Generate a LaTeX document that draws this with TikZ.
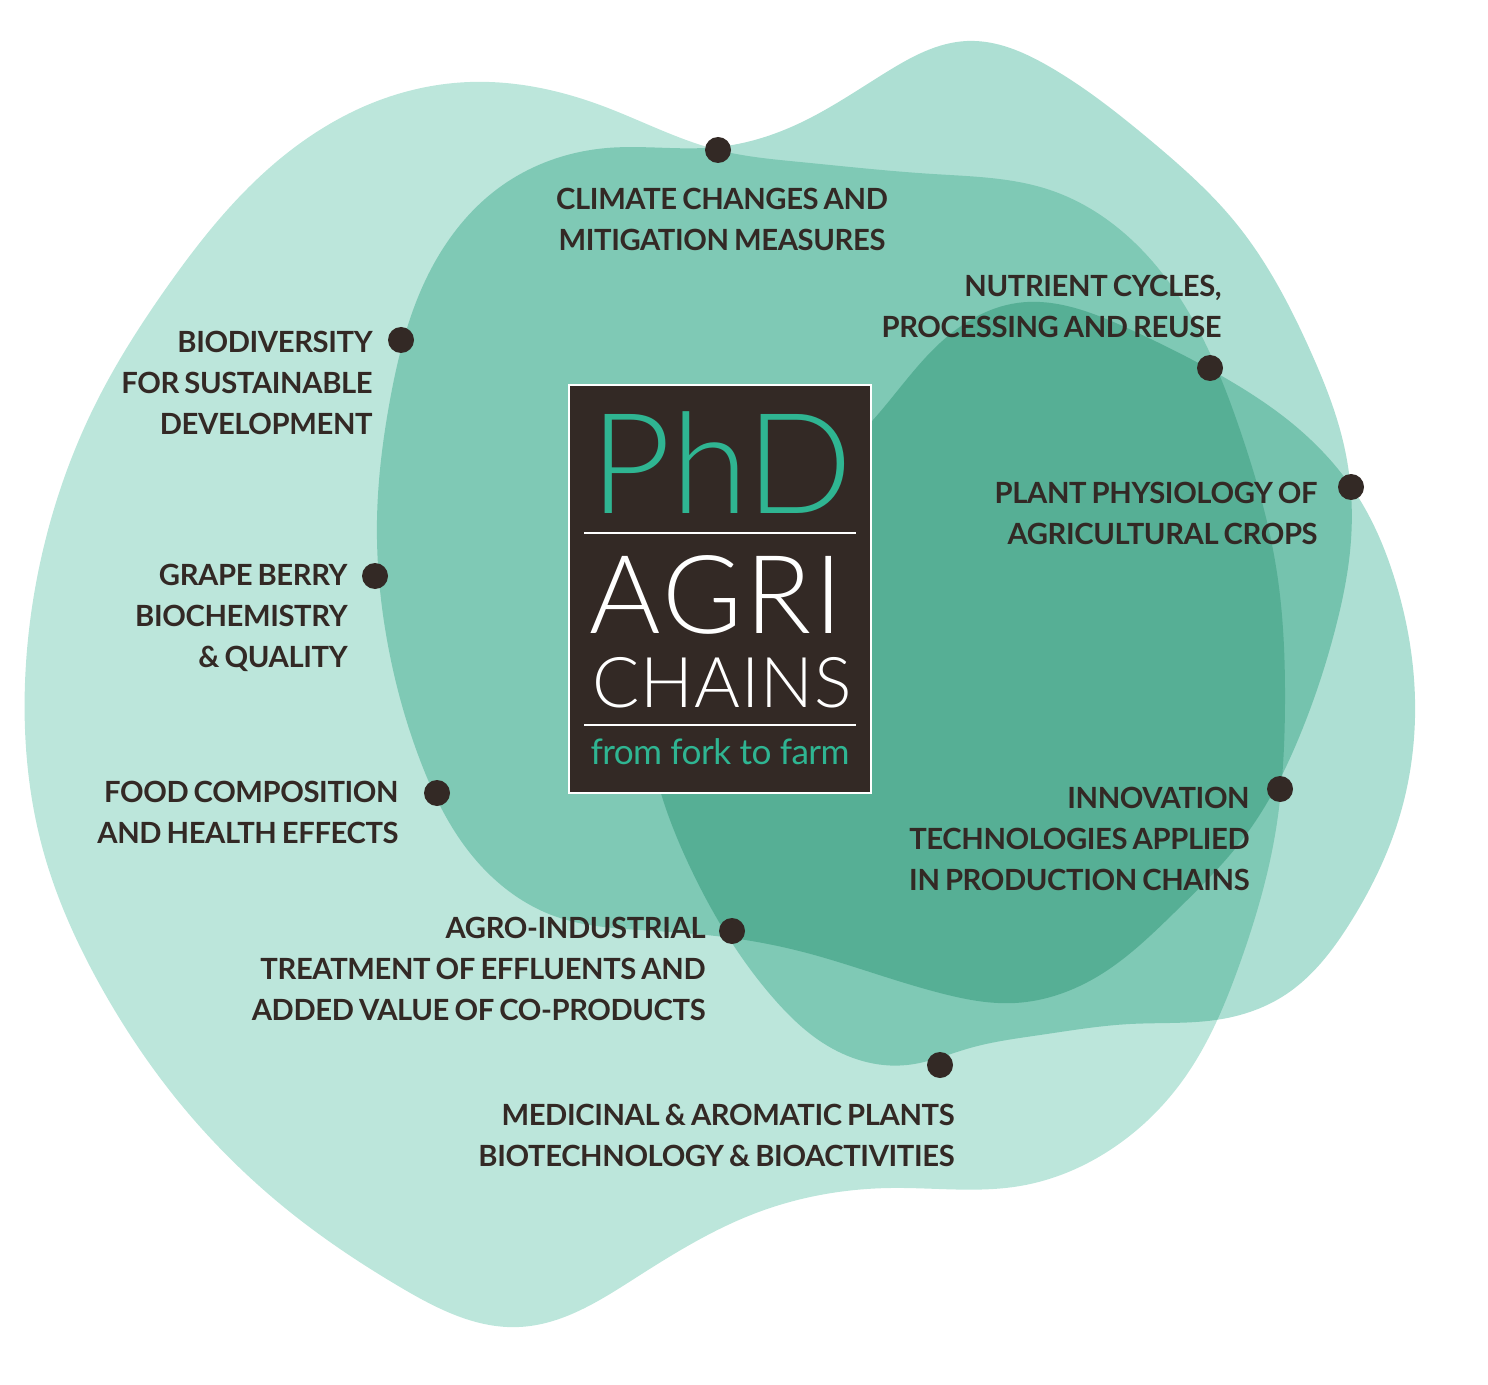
\documentclass[tikz,border=0pt]{standalone}
\usepackage{xcolor}
\usepackage{fontspec}
\usetikzlibrary{hobby}
\setmainfont{Lato}
\newfontfamily\logofont{Lato Light}
\newfontfamily\agrifont[LetterSpace=2.8]{Lato Light}
\newfontfamily\chainsfont[LetterSpace=1.5]{Lato Light}
\newfontfamily\tagfont[LetterSpace=-1.7]{Lato}
\newfontfamily\topicfont[LetterSpace=-1.3,WordSpace=.75]{Lato Bold}
\definecolor{blobleft}{RGB}{188,230,219}
\definecolor{blobright}{RGB}{173,223,211}
\definecolor{darkbrown}{RGB}{51,41,37}
\definecolor{logogreen}{RGB}{47,181,146}
\tikzstyle{dot}=[circle,fill=darkbrown,minimum size=13pt,inner sep=0pt]
\tikzstyle{topic}=[text=darkbrown,inner sep=0pt,font=\topicfont\fontsize{14.6}{20.5}\selectfont]
\tikzstyle{logotext}=[anchor=base,inner sep=0pt]
\tikzstyle{logorule}=[white,line width=.9pt]
\tikzset{y=-.5pt}
\tikzset{x=.5pt}
\begin{document}
\begin{tikzpicture}[use Hobby shortcut]
  \useasboundingbox (0,0) rectangle (1488,1385);
  %% Blobs
  \begin{scope}[blend mode=multiply]
  \fill[blobleft,closed=true] (718,150) .. (600,105) .. (470,82) .. (380,100) .. (267,170) .. (167,287) .. (95,405) .. (43,550) .. (25,683) .. (43,850) .. (100,985) .. (183,1107) .. (290,1212) .. (400,1287) .. (519,1327) .. (637,1277) .. (756,1213) .. (890,1188) .. (1020,1186) .. (1110,1150) .. (1183,1080) .. (1240,963) .. (1275,835) .. (1285,700) .. (1277,573) .. (1240,430) .. (1158,268) .. (1050,190) .. (933,174) .. (800,162);
  \fill[blobright,closed=true] (718,147) .. (800,123) .. (885,73) .. (967,41) .. (1050,67) .. (1150,140) .. (1235,222) .. (1310,350) .. (1345,450) .. (1351,540) .. (1335,630) .. (1300,735) .. (1248,832) .. (1175,912) .. (1100,975) .. (1015,1003) .. (940,993) .. (873,973) .. (807,953) .. (732,938) .. (640,930) .. (557,917) .. (470,853) .. (420,760) .. (387,640) .. (377,520) .. (390,400) .. (427,277) .. (500,187) .. (607,148);
  \fill[blobright,closed=true] (1017,303) .. (1127,328) .. (1220,375) .. (1300,430) .. (1360,500) .. (1395,580) .. (1415,700) .. (1400,815) .. (1350,923) .. (1285,995) .. (1222,1019) .. (1130,1024) .. (1040,1035) .. (970,1048) .. (907,1065) .. (823,1043) .. (775,1000) .. (732,943) .. (690,867) .. (660,790) .. (650,720) .. (700,600) .. (800,490) .. (873,420) .. (940,343);
  \end{scope}

  %% Logo
  \draw (568,384) node[anchor=north west,minimum width=151pt,minimum height=204pt,inner sep=0pt,draw=white,line width=.9pt,fill=darkbrown] (logo) {};
  \draw (722,513) node[logotext,text=logogreen,font=\logofont\fontsize{70}{70}\selectfont] (phd) {PhD};
  \draw (716,633) node[logotext,text=white,font=\agrifont\fontsize{54.5}{54.5}\selectfont] (agri) {AGRI};
  \draw (722,707) node[logotext,text=white,font=\chainsfont\fontsize{35}{35}\selectfont] (chains) {CHAINS};
  \draw (720,764) node[logotext,text=logogreen,font=\tagfont\fontsize{17.6}{17.6}\selectfont] (tagline) {from fork to farm};
  \draw[logorule] (584,533) -- (856,533);
  \draw[logorule] (584,725) -- (856,725);

  %% Dots
  \draw (718,150) node[dot] (climate) {};
  \draw (1210,368) node[dot] (nutrient) {};
  \draw (1351,487) node[dot] (plant) {};
  \draw (1280,789) node[dot] (innovation) {};
  \draw (940,1065) node[dot] (medicinal) {};
  \draw (732,931) node[dot] (agro) {};
  \draw (437,793) node[dot] (food) {};
  \draw (375,576) node[dot] (grape) {};
  \draw (401,340) node[dot] (biodiv) {};

  %% Labels
  \draw (722,188) node[topic,anchor=north,align=center] (climatetext) {CLIMATE CHANGES AND\\MITIGATION MEASURES};
  \draw (1222,275) node[topic,anchor=north east,align=right] (nutrienttext) {NUTRIENT CYCLES,\\PROCESSING AND REUSE};
  \draw (1318,482) node[topic,anchor=north east,align=right] (planttext) {PLANT PHYSIOLOGY OF\\AGRICULTURAL CROPS};
  \draw (1250,787) node[topic,anchor=north east,align=right] (innovationtext) {INNOVATION\\TECHNOLOGIES APPLIED\\IN PRODUCTION CHAINS};
  \draw (955,1104) node[topic,anchor=north east,align=right] (medicinaltext) {MEDICINAL \& AROMATIC PLANTS\\BIOTECHNOLOGY \& BIOACTIVITIES};
  \draw (706,917) node[topic,anchor=north east,align=right] (agrotext) {AGRO-INDUSTRIAL\\TREATMENT OF EFFLUENTS AND\\ADDED VALUE OF CO-PRODUCTS};
  \draw (399,781) node[topic,anchor=north east,align=right] (foodtext) {FOOD COMPOSITION\\AND HEALTH EFFECTS};
  \draw (348,564) node[topic,anchor=north east,align=right] (grapetext) {GRAPE BERRY\\BIOCHEMISTRY\\\& QUALITY};
  \draw (373,331) node[topic,anchor=north east,align=right] (biodivtext) {BIODIVERSITY\\FOR SUSTAINABLE\\DEVELOPMENT};
\end{tikzpicture}
\end{document}
